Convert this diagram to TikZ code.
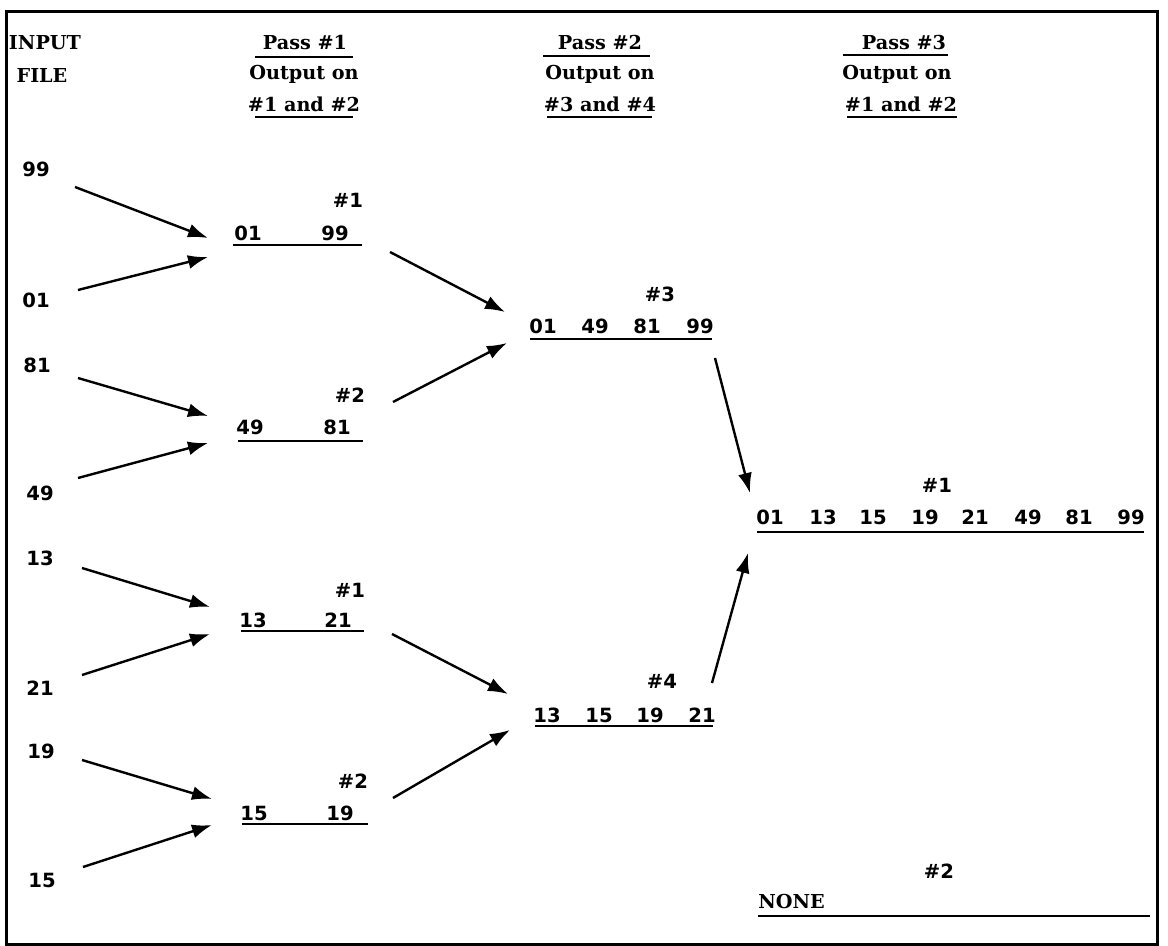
\documentclass[tikz,border=0pt]{standalone}
\usepackage{fontspec}
\setmainfont{DejaVu Serif}
\newfontfamily\numfont{DejaVu Sans}
\usetikzlibrary{arrows.meta}
\tikzset{
  num/.style={font=\numfont\bfseries\fontsize{9.8}{12}\selectfont, inner sep=0pt, anchor=base},
  hdr/.style={font=\bfseries\fontsize{9.6}{12}\selectfont, inner sep=0pt, anchor=base},
  arr/.style={-{Latex[length=10pt,width=7pt]}, line width=1.2pt},
  rul/.style={line width=1.2pt},
  frm/.style={line width=1.5pt},
}
\begin{document}
\begin{tikzpicture}[x=0.5pt,y=-0.5pt]
\useasboundingbox (0,0) rectangle (1168,946);
\draw[frm] (6,12) rectangle (1157,944);

% headers
\node[hdr] (inA) at (45,50) {INPUT};
\node[hdr] (inB) at (42,83) {FILE};

\node[hdr] (h1a) at (305,50) {Pass \#1};
\node[hdr] (h1b) at (304,80) {Output on};
\node[hdr] (h1c) at (304,112) {\#1 and \#2};
\draw[rul] (255,57) -- (353,57);
\draw[rul] (255,117) -- (353,117);

\node[hdr] (h2a) at (600,50) {Pass \#2};
\node[hdr] (h2b) at (600,80) {Output on};
\node[hdr] (h2c) at (600,112) {\#3 and \#4};
\draw[rul] (543,56) -- (650,56);
\draw[rul] (547,117) -- (652,117);

\node[hdr] (h3a) at (904,50) {Pass \#3};
\node[hdr] (h3b) at (897,80) {Output on};
\node[hdr] (h3c) at (901,112) {\#1 and \#2};
\draw[rul] (843,55) -- (948,55);
\draw[rul] (847,117) -- (957,117);

% input file
\node[num] (i99) at (36,177) {99};
\node[num] (i01) at (36,308) {01};
\node[num] (i81) at (37,373) {81};
\node[num] (i49) at (40,501) {49};
\node[num] (i13) at (40,566) {13};
\node[num] (i21) at (40,695) {21};
\node[num] (i19) at (41,758) {19};
\node[num] (i15) at (42,887) {15};

% pass 1 blocks
\node[num] (b1t) at (348,208) {\#1};
\node[num] (b1a) at (248,241) {01};
\node[num] (b1b) at (335,241) {99};
\draw[rul] (233,245) -- (362,245);

\node[num] (b2t) at (350,403) {\#2};
\node[num] (b2a) at (250,435) {49};
\node[num] (b2b) at (337,435) {81};
\draw[rul] (238,441) -- (363,441);

\node[num] (b3t) at (350,597) {\#1};
\node[num] (b3a) at (253,627) {13};
\node[num] (b3b) at (338,627) {21};
\draw[rul] (241,631) -- (364,631);

\node[num] (b4t) at (353,788) {\#2};
\node[num] (b4a) at (254,820) {15};
\node[num] (b4b) at (340,820) {19};
\draw[rul] (242,824) -- (368,824);

% pass 2 blocks
\node[num] (c1t) at (660,302) {\#3};
\node[num] (c1a) at (543,334) {01};
\node[num] (c1b) at (595,334) {49};
\node[num] (c1c) at (647,334) {81};
\node[num] (c1d) at (700,334) {99};
\draw[rul] (530,339) -- (712,339);

\node[num] (c2t) at (662,689) {\#4};
\node[num] (c2a) at (547,722) {13};
\node[num] (c2b) at (599,722) {15};
\node[num] (c2c) at (650,722) {19};
\node[num] (c2d) at (702,722) {21};
\draw[rul] (535,726) -- (713,726);

% pass 3 blocks
\node[num] (d1t) at (937,493) {\#1};
\node[num] (d1a) at (770,525) {01};
\node[num] (d1b) at (823,525) {13};
\node[num] (d1c) at (873,525) {15};
\node[num] (d1d) at (925,525) {19};
\node[num] (d1e) at (975,525) {21};
\node[num] (d1f) at (1028,525) {49};
\node[num] (d1g) at (1079,525) {81};
\node[num] (d1h) at (1131,525) {99};
\draw[rul] (757,532) -- (1144,532);

\node[num] (d2t) at (939,878) {\#2};
\node[hdr, anchor=base west] (d2a) at (758,908) {NONE};
\draw[rul] (758,916) -- (1150,916);

% arrow end points
\coordinate (s99) at (75,187);  \coordinate (e99) at (208,238);
\coordinate (s01) at (78,290);  \coordinate (e01) at (208,257);
\coordinate (s81) at (78,378);  \coordinate (e81) at (208,416);
\coordinate (s49) at (78,478);  \coordinate (e49) at (208,443);
\coordinate (s13) at (82,568);  \coordinate (e13) at (210,607);
\coordinate (s21) at (82,675);  \coordinate (e21) at (210,634);
\coordinate (s19) at (82,760);  \coordinate (e19) at (212,799);
\coordinate (s15) at (83,867);  \coordinate (e15) at (212,825);

\coordinate (sb1) at (390,252); \coordinate (ec1a) at (505,312);
\coordinate (sb2) at (393,402); \coordinate (ec1b) at (507,343);
\coordinate (sb3) at (392,634); \coordinate (ec2a) at (508,694);
\coordinate (sb4) at (393,798); \coordinate (ec2b) at (510,730);

\coordinate (sc1) at (715,358); \coordinate (ed1a) at (750,493);
\coordinate (sc2) at (712,683); \coordinate (ed1b) at (748,553);

\draw[arr] (s99) -- (e99);
\draw[arr] (s01) -- (e01);
\draw[arr] (s81) -- (e81);
\draw[arr] (s49) -- (e49);
\draw[arr] (s13) -- (e13);
\draw[arr] (s21) -- (e21);
\draw[arr] (s19) -- (e19);
\draw[arr] (s15) -- (e15);

\draw[arr] (sb1) -- (ec1a);
\draw[arr] (sb2) -- (ec1b);
\draw[arr] (sb3) -- (ec2a);
\draw[arr] (sb4) -- (ec2b);

\draw[arr] (sc1) -- (ed1a);
\draw[arr] (sc2) -- (ed1b);
\end{tikzpicture}
\end{document}
